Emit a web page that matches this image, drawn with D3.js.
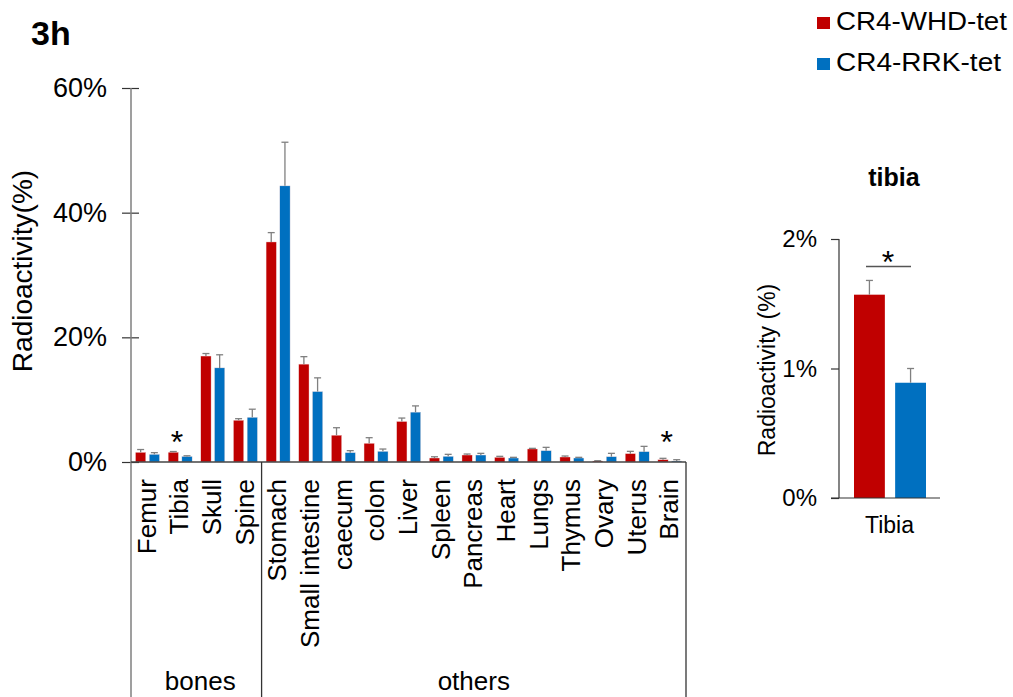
<!DOCTYPE html>
<html>
<head>
<meta charset="utf-8">
<script src="https://cdn.jsdelivr.net/npm/d3@7/dist/d3.min.js"></script>
<style>
  html, body { margin: 0; padding: 0; background: #fff; }
  svg { display: block; font-family: "Liberation Sans", Arial, sans-serif; }
</style>
</head>
<body>
<svg id="chart" width="1013" height="697"></svg>
<script>
// Organ distribution of radioactivity for the two tracers
const organs = ["Femur", "Tibia", "Skull", "Spine", "Stomach", "Small intestine", "caecum", "colon",
  "Liver", "Spleen", "Pancreas", "Heart", "Lungs", "Thymus", "Ovary", "Uterus", "Brain"];
const seriesNames = ["CR4-WHD-tet", "CR4-RRK-tet"];
const seriesColors = ["#C00000", "#0070C0"];
const whdMean = [1.55, 1.57, 17.0, 6.7, 35.3, 15.7, 4.3, 3.0, 6.5, 0.64, 1.12, 0.75, 2.09, 0.8, 0.16, 1.34, 0.37];
const whdErr  = [0.45, 0.11, 0.4, 0.25, 1.5, 1.2, 1.2, 0.9, 0.55, 0.2, 0.16, 0.16, 0.1, 0.16, 0.05, 0.37, 0.22];
const rrkMean = [1.23, 0.89, 15.1, 7.17, 44.3, 11.3, 1.5, 1.71, 8.0, 0.91, 1.12, 0.64, 1.82, 0.64, 0.85, 1.66, 0.16];
const rrkErr  = [0.27, 0.11, 2.1, 1.3, 7.0, 2.2, 0.32, 0.37, 1.0, 0.32, 0.27, 0.11, 0.53, 0.11, 0.54, 0.85, 0.21];
const yTicks = [0, 20, 40, 60];
const groups = [
  { name: "bones", from: "Femur", to: "Spine" },
  { name: "others", from: "Stomach", to: "Brain" }
];
const significant = ["Tibia", "Brain"];

// Tibia inset
const insetCategory = ["Tibia"];
const insetMean = [1.57, 0.89];
const insetErr = [0.11, 0.11];
const insetTicks = [0, 1, 2];

const svg = d3.select("#chart");
const axisColor = "#7f7f7f";
const errColor = "#808080";
const FONT = "Liberation Sans, Arial, sans-serif";

// Panel label
svg.append("text").attr("x", 31).attr("y", 45)
  .attr("font-size", 34).attr("font-weight", "bold").text("3h");

// Legend
seriesNames.forEach((s, i) => {
  const y = 17 + i * 41;
  svg.append("rect").attr("x", 817).attr("y", y).attr("width", 13).attr("height", 12).attr("fill", seriesColors[i]);
  svg.append("text").attr("x", 836).attr("y", y + 13).attr("font-size", 25)
    .attr("textLength", i === 0 ? 171 : 165).attr("lengthAdjust", "spacingAndGlyphs").text(s);
});

// ---------- Main chart ----------
const left = 131, right = 686, y0 = 462, yTop = 88;
const y = d3.scaleLinear().domain([0, 60]).range([y0, yTop]);
const x0 = d3.scaleBand().domain(organs).range([left, right]).padding(0);
const x1 = d3.scaleBand().domain(seriesNames).range([4.5, 28.5]).paddingInner(0.25);

const series = [
  { name: seriesNames[0], mean: whdMean, err: whdErr, color: seriesColors[0] },
  { name: seriesNames[1], mean: rrkMean, err: rrkErr, color: seriesColors[1] }
];

const main = svg.append("g");

series.forEach(s => {
  const g = main.append("g");
  organs.forEach((o, i) => {
    const bx = x0(o) + x1(s.name);
    const bw = x1.bandwidth();
    g.append("rect").attr("x", bx).attr("y", y(s.mean[i]))
      .attr("width", bw).attr("height", y0 - y(s.mean[i]))
      .attr("fill", s.color).attr("stroke", "#f2dede").attr("stroke-width", 0.4);
    const cx = bx + bw / 2;
    const top = y(s.mean[i] + s.err[i]);
    g.append("line").attr("x1", cx).attr("x2", cx).attr("y1", y(s.mean[i])).attr("y2", top)
      .attr("stroke", errColor).attr("stroke-width", 1.3);
    g.append("line").attr("x1", cx - 3.5).attr("x2", cx + 3.5).attr("y1", top).attr("y2", top)
      .attr("stroke", errColor).attr("stroke-width", 1.3);
  });
});

// y axis
const yAxis = d3.axisLeft(y).tickValues(yTicks).tickFormat(d => d + "%").tickSize(8).tickPadding(16);
const ya = main.append("g").attr("transform", `translate(${left},0)`).call(yAxis);
ya.select(".domain").remove();
ya.selectAll(".tick line").attr("stroke", "#333").attr("x2", 8).attr("x1", -9).attr("stroke-width", 1.2);
ya.selectAll(".tick text").attr("font-size", 27).attr("fill", "#000").attr("font-family", FONT);
main.append("line").attr("x1", left).attr("x2", left).attr("y1", yTop).attr("y2", 697)
  .attr("stroke", axisColor).attr("stroke-width", 1.5);

// baseline
main.append("line").attr("x1", left).attr("x2", right).attr("y1", y0).attr("y2", y0)
  .attr("stroke", "#444").attr("stroke-width", 1.5);

// group separators and labels
groups.forEach((gr, gi) => {
  const gx0 = x0(gr.from), gx1 = x0(gr.to) + x0.bandwidth();
  if (gi > 0) {
    main.append("line").attr("x1", gx0).attr("x2", gx0).attr("y1", y0).attr("y2", 697)
      .attr("stroke", "#333").attr("stroke-width", 1.3);
  }
  if (gi === groups.length - 1) {
    main.append("line").attr("x1", gx1).attr("x2", gx1).attr("y1", y0).attr("y2", 697)
      .attr("stroke", "#333").attr("stroke-width", 1.3);
  }
  main.append("text").attr("x", (gx0 + gx1) / 2 + (gi === 0 ? 4 : 0)).attr("y", 690)
    .attr("text-anchor", "middle").attr("font-size", 26).text(gr.name);
});

// category labels
organs.forEach(o => {
  const cx = x0(o) + x0.bandwidth() / 2 + 8.5;
  main.append("text")
    .attr("transform", `translate(${cx},479) rotate(-90)`)
    .attr("text-anchor", "end").attr("font-size", 26).text(o);
});

// significance marks
significant.forEach(o => {
  const cx = x0(o) + x0.bandwidth() / 2 - 3;
  main.append("text").attr("x", cx).attr("y", 453).attr("text-anchor", "middle")
    .attr("font-size", 32).text("*");
});

// y title
svg.append("text").attr("transform", "translate(32,271) rotate(-90)")
  .attr("text-anchor", "middle").attr("font-size", 28).text("Radioactivity(%)");

// ---------- Tibia inset ----------
const iLeft = 839, iRight = 940, iy0 = 498, iyTop = 239;
const iy = d3.scaleLinear().domain([0, 2]).range([iy0, iyTop]);
const ix0 = d3.scaleBand().domain(insetCategory).range([iLeft, iRight]);
const ix1 = d3.scaleBand().domain(seriesNames).range([15, 87]).paddingInner(0.25);

const inset = svg.append("g");
inset.append("text").attr("x", 894).attr("y", 186).attr("text-anchor", "middle")
  .attr("font-size", 25).attr("font-weight", "bold").text("tibia");

seriesNames.forEach((s, i) => {
  const bx = ix0("Tibia") + ix1(s), bw = ix1.bandwidth();
  inset.append("rect").attr("x", bx).attr("y", iy(insetMean[i]))
    .attr("width", bw).attr("height", iy0 - iy(insetMean[i])).attr("fill", seriesColors[i]);
  const cx = bx + bw / 2, top = iy(insetMean[i] + insetErr[i]);
  inset.append("line").attr("x1", cx).attr("x2", cx).attr("y1", iy(insetMean[i])).attr("y2", top)
    .attr("stroke", errColor).attr("stroke-width", 1.3);
  inset.append("line").attr("x1", cx - 3.5).attr("x2", cx + 3.5).attr("y1", top).attr("y2", top)
    .attr("stroke", errColor).attr("stroke-width", 1.3);
});

const iAxis = d3.axisLeft(iy).tickValues(insetTicks).tickFormat(d => d + "%").tickSize(8).tickPadding(14);
const ia = inset.append("g").attr("transform", `translate(${iLeft},0)`).call(iAxis);
ia.select(".domain").attr("stroke", "#333").attr("stroke-width", 1.2).attr("d", `M0,${iyTop}V${iy0}`);
ia.selectAll(".tick line").attr("stroke", "#333").attr("stroke-width", 1.2);
ia.selectAll(".tick text").attr("font-size", 24).attr("fill", "#000").attr("font-family", FONT);
inset.append("line").attr("x1", iLeft - 8).attr("x2", iRight).attr("y1", iy0).attr("y2", iy0)
  .attr("stroke", "#333").attr("stroke-width", 1.2);

inset.append("text").attr("x", ix0("Tibia") + ix0.bandwidth() / 2).attr("y", 533)
  .attr("text-anchor", "middle").attr("font-size", 23).text("Tibia");
inset.append("text").attr("transform", "translate(775,370) rotate(-90)")
  .attr("text-anchor", "middle").attr("font-size", 23).text("Radioactivity (%)");

// significance bracket
inset.append("line").attr("x1", 866).attr("x2", 911).attr("y1", 266.5).attr("y2", 266.5)
  .attr("stroke", "#555").attr("stroke-width", 1.3);
inset.append("text").attr("x", 888).attr("y", 273).attr("text-anchor", "middle")
  .attr("font-size", 32).text("*");
</script>
</body>
</html>
